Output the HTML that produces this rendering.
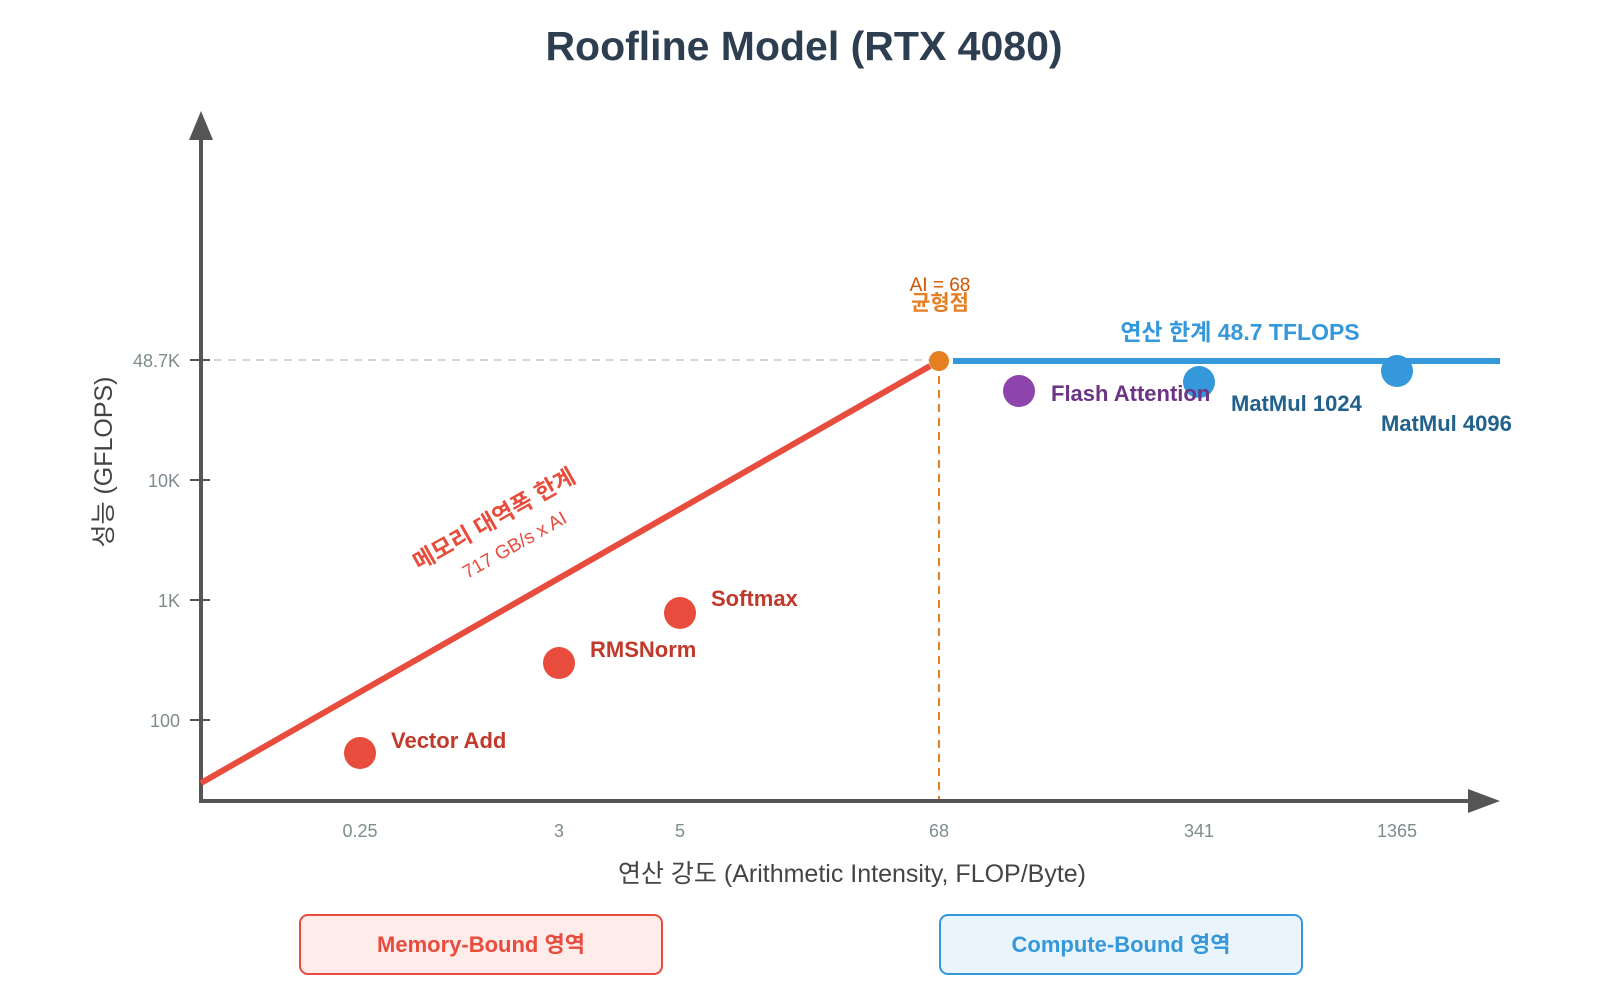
<!DOCTYPE html>
<html><head><meta charset="utf-8"><style>
html,body{margin:0;padding:0;background:#fff;}
svg{display:block;font-family:"Liberation Sans","Noto Sans CJK KR",sans-serif;}
</style></head><body>
<svg width="1600" height="1000" viewBox="0 0 1600 1000" xmlns="http://www.w3.org/2000/svg">
<text x="804" y="60" text-anchor="middle" font-size="41" font-weight="bold" fill="#2c3e50">Roofline Model (RTX 4080)</text>
<line x1="200" y1="360" x2="939" y2="360" stroke="#d5d5d5" stroke-width="2" stroke-dasharray="8,6"/>
<line x1="939" y1="362" x2="939" y2="800" stroke="#e67e22" stroke-width="2" stroke-dasharray="8,6"/>
<line x1="201" y1="800" x2="201" y2="135" stroke="#555" stroke-width="4"/>
<polygon points="201,111 189,140 213,140" fill="#555"/>
<line x1="199" y1="801" x2="1480" y2="801" stroke="#555" stroke-width="4"/>
<polygon points="1500,801 1468,789 1468,813" fill="#555"/>
<g stroke="#555" stroke-width="2">
<line x1="190" y1="360" x2="210" y2="360"/><line x1="190" y1="480" x2="210" y2="480"/>
<line x1="190" y1="600" x2="210" y2="600"/><line x1="190" y1="720" x2="210" y2="720"/>
</g>
<g font-size="18" fill="#7f8c8d" text-anchor="end">
<text x="180" y="367">48.7K</text><text x="180" y="487">10K</text><text x="180" y="607">1K</text><text x="180" y="727">100</text>
</g>
<g font-size="18" fill="#7f8c8d" text-anchor="middle">
<text x="360" y="837">0.25</text><text x="559" y="837">3</text><text x="680" y="837">5</text>
<text x="939" y="837">68</text><text x="1199" y="837">341</text><text x="1397" y="837">1365</text>
</g>
<text x="852" y="882" text-anchor="middle" font-size="25" fill="#444">연산 강도 (Arithmetic Intensity, FLOP/Byte)</text>
<text transform="translate(112,462) rotate(-90)" text-anchor="middle" font-size="25" fill="#444">성능 (GFLOPS)</text>
<line x1="201" y1="783" x2="930" y2="366" stroke="#e74c3c" stroke-width="6"/>
<line x1="953" y1="361" x2="1500" y2="361" stroke="#3498db" stroke-width="6"/>
<circle cx="939" cy="361" r="10" fill="#e67e22"/>
<text x="940" y="291" text-anchor="middle" font-size="19" fill="#d35400">AI = 68</text>
<text x="940" y="310" text-anchor="middle" font-size="21" font-weight="bold" fill="#e67e22">균형점</text>
<text x="1240" y="340" text-anchor="middle" font-size="23" font-weight="bold" fill="#3498db">연산 한계 48.7 TFLOPS</text>
<g transform="translate(498,526) rotate(-29.5)">
<text x="0" y="0" text-anchor="middle" font-size="23" font-weight="bold" fill="#e74c3c">메모리 대역폭 한계</text>
<text x="5" y="31" text-anchor="middle" font-size="19" fill="#e74c3c">717 GB/s x AI</text>
</g>
<circle cx="360" cy="753" r="16" fill="#e74c3c"/>
<circle cx="559" cy="663" r="16" fill="#e74c3c"/>
<circle cx="680" cy="613" r="16" fill="#e74c3c"/>
<circle cx="1019" cy="391" r="16" fill="#8e44ad"/>
<circle cx="1199" cy="382" r="16" fill="#3498db"/>
<circle cx="1397" cy="371" r="16" fill="#3498db"/>
<g font-size="22" font-weight="bold">
<text x="391" y="748" fill="#c0392b">Vector Add</text>
<text x="590" y="657" fill="#c0392b">RMSNorm</text>
<text x="711" y="606" fill="#c0392b">Softmax</text>
<text x="1051" y="401" fill="#6c3483">Flash Attention</text>
<text x="1231" y="411" fill="#21618c">MatMul 1024</text>
<text x="1381" y="431" fill="#21618c">MatMul 4096</text>
</g>
<rect x="300" y="915" width="362" height="59" rx="8" fill="#fdecea" stroke="#e74c3c" stroke-width="2"/>
<text x="481" y="952" text-anchor="middle" font-size="22" font-weight="bold" fill="#e74c3c">Memory-Bound 영역</text>
<rect x="940" y="915" width="362" height="59" rx="8" fill="#eaf4fc" stroke="#3498db" stroke-width="2"/>
<text x="1121" y="952" text-anchor="middle" font-size="22" font-weight="bold" fill="#3498db">Compute-Bound 영역</text>
</svg>
</body></html>
